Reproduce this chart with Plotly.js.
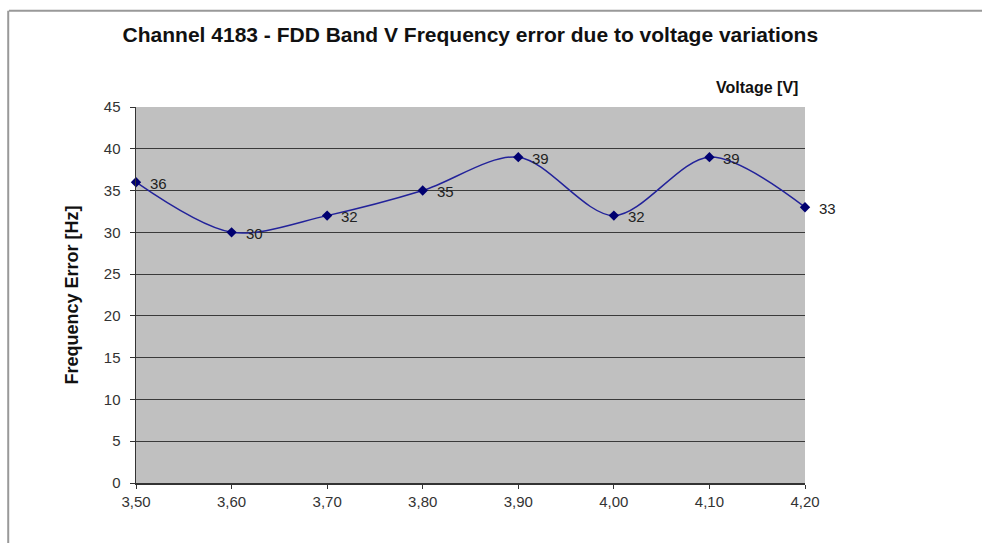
<!DOCTYPE html>
<html>
<head>
<meta charset="utf-8">
<script src="https://cdn.plot.ly/plotly-3.0.1.min.js"></script>
<style>html,body{margin:0;padding:0;background:#fff;}#chart{width:982px;height:543px;}</style>
</head>
<body>
<div id="chart"></div>
<script>
const voltages = [3.50, 3.60, 3.70, 3.80, 3.90, 4.00, 4.10, 4.20];
const freqError = [36, 30, 32, 35, 39, 32, 39, 33];
const xTickVals = [3.50, 3.60, 3.70, 3.80, 3.90, 4.00, 4.10, 4.20];
const xTickText = ['3,50', '3,60', '3,70', '3,80', '3,90', '4,00', '4,10', '4,20'];
const yTickVals = [0, 5, 10, 15, 20, 25, 30, 35, 40, 45];

const trace = {
  x: voltages,
  y: freqError,
  type: 'scatter',
  mode: 'lines+markers',
  line: {shape: 'spline', smoothing: 0.9, color: '#22229a', width: 1.5},
  marker: {symbol: 'diamond', size: 8, color: '#000070'},
  cliponaxis: false,
  hoverinfo: 'x+y'
};

const labelAnnotations = voltages.map((v, i) => ({
  x: v, y: freqError[i], xref: 'x', yref: 'y',
  text: String(freqError[i]),
  showarrow: false, xanchor: 'left', yanchor: 'middle',
  xshift: 12, yshift: -1,
  font: {family: 'Liberation Sans, Arial, sans-serif', size: 15, color: '#222'}
}));

const layout = {
  width: 982,
  height: 543,
  margin: {l: 136, r: 177, t: 107, b: 60},
  paper_bgcolor: '#ffffff',
  plot_bgcolor: '#c0c0c0',
  showlegend: false,
  font: {family: 'Liberation Sans, Arial, sans-serif', color: '#222'},
  title: {
    text: '<b>Channel 4183 - FDD Band V Frequency error due to voltage variations</b>',
    font: {size: 21, color: '#111'},
    x: 0.479, xanchor: 'center', y: 0.936, yanchor: 'middle'
  },
  xaxis: {
    range: [3.50, 4.20],
    tickvals: xTickVals,
    ticktext: xTickText,
    ticks: 'outside', ticklen: 4, tickcolor: '#333',
    showgrid: false,
    showline: true, linecolor: '#333', linewidth: 1.5,
    zeroline: false,
    tickfont: {size: 15, color: '#333'}
  },
  yaxis: {
    range: [0, 45],
    tickvals: yTickVals,
    ticks: 'outside', ticklen: 5, tickcolor: '#333',
    ticklabelstandoff: 6,
    showgrid: true, gridcolor: '#3a3a3a', gridwidth: 1,
    showline: true, linecolor: '#333', linewidth: 1.5,
    zeroline: false,
    tickfont: {size: 15, color: '#333'},
    title: {text: '<b>Frequency Error [Hz]</b>', font: {size: 18, color: '#111'}, standoff: 20}
  },
  annotations: [{
    text: '<b>Voltage [V]</b>',
    xref: 'paper', yref: 'paper',
    x: 0.9925, y: 1.053, xanchor: 'right', yanchor: 'middle',
    showarrow: false,
    font: {size: 16, color: '#111'}
  }].concat(labelAnnotations),
  shapes: [
    {type: 'line', xref: 'paper', yref: 'paper', x0: -0.19, x1: 1.3, y0: 1.256, y1: 1.256, line: {color: '#999', width: 2}},
    {type: 'line', xref: 'paper', yref: 'paper', x0: -0.191, x1: -0.191, y0: 1.256, y1: -0.17, line: {color: '#999', width: 2}}
  ]
};

Plotly.newPlot('chart', [trace], layout, {displayModeBar: false, staticPlot: true});
</script>
</body>
</html>
